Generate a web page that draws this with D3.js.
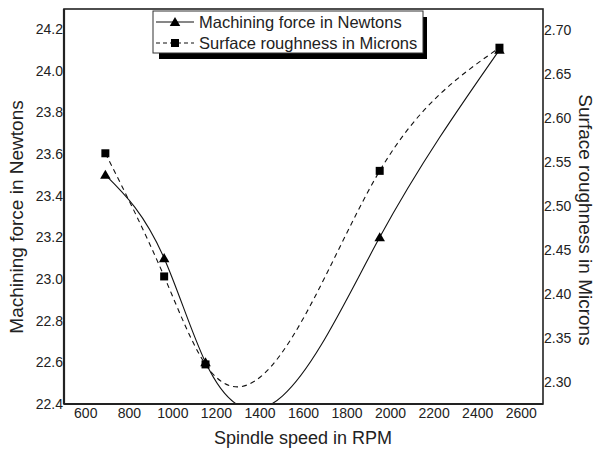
<!DOCTYPE html>
<html>
<head>
    <title>Spindle speed vs force and roughness</title>
    <script src="https://d3js.org/d3.v7.min.js"></script>
    <style>
        body { margin: 0; background: #fff; }
        text { font-family: Arial, "Liberation Sans", sans-serif; fill: #222; }
    </style>
</head>
<body>
    <svg width="596" height="450"></svg>
    <script>
        // data
        const rpm = [690, 960, 1150, 1950, 2500];
        const force = [23.5, 23.1, 22.6, 23.2, 24.1];
        const roughness = [2.56, 2.42, 2.32, 2.54, 2.68];
        const xTicks = [600, 800, 1000, 1200, 1400, 1600, 1800, 2000, 2200, 2400, 2600];
        const forceTicks = [22.4, 22.6, 22.8, 23.0, 23.2, 23.4, 23.6, 23.8, 24.0, 24.2];
        const roughTicks = [2.30, 2.35, 2.40, 2.45, 2.50, 2.55, 2.60, 2.65, 2.70];

        // plot box edges
        const box = {left: 64, right: 543, top: 9, bottom: 404};
        const svg = d3.select("svg");

        const x = d3.scaleLinear().domain([500, 2700]).range([box.left, box.right]);
        const yF = d3.scaleLinear().domain([22.4, 24.296]).range([box.bottom, box.top]);
        const yR = d3.scaleLinear().domain([2.275, 2.724]).range([box.bottom, box.top]);

        // d3 curve: natural cubic spline of y as a function of x (like the original plot)
        function curveSplineX(context) {
            let px, py;
            return {
                areaStart() {}, areaEnd() {},
                lineStart() { px = []; py = []; },
                point(a, b) { px.push(+a); py.push(+b); },
                lineEnd() {
                    const n = px.length;
                    if (!n) return;
                    context.moveTo(px[0], py[0]);
                    if (n < 3) { if (n === 2) context.lineTo(px[1], py[1]); return; }
                    const h = [], M = new Array(n).fill(0);
                    for (let i = 0; i < n - 1; i++) h.push(px[i + 1] - px[i]);
                    // tridiagonal system for second derivatives
                    const a = [], b = [], c = [], r = [];
                    for (let i = 1; i < n - 1; i++) {
                        a.push(h[i - 1]); b.push(2 * (h[i - 1] + h[i])); c.push(h[i]);
                        r.push(6 * ((py[i + 1] - py[i]) / h[i] - (py[i] - py[i - 1]) / h[i - 1]));
                    }
                    const m = b.length;
                    for (let i = 1; i < m; i++) {
                        const w = a[i] / b[i - 1];
                        b[i] -= w * c[i - 1]; r[i] -= w * r[i - 1];
                    }
                    const sol = new Array(m);
                    sol[m - 1] = r[m - 1] / b[m - 1];
                    for (let i = m - 2; i >= 0; i--) sol[i] = (r[i] - c[i] * sol[i + 1]) / b[i];
                    for (let i = 0; i < m; i++) M[i + 1] = sol[i];
                    for (let i = 0; i < n - 1; i++) {
                        const s = (py[i + 1] - py[i]) / h[i];
                        const d0 = s - h[i] * (2 * M[i] + M[i + 1]) / 6;
                        const d1 = s + h[i] * (M[i] + 2 * M[i + 1]) / 6;
                        context.bezierCurveTo(px[i] + h[i] / 3, py[i] + d0 * h[i] / 3,
                            px[i + 1] - h[i] / 3, py[i + 1] - d1 * h[i] / 3,
                            px[i + 1], py[i + 1]);
                    }
                }
            };
        }

        svg.append("defs").append("clipPath").attr("id", "plot")
            .append("rect").attr("x", box.left).attr("y", box.top)
            .attr("width", box.right - box.left).attr("height", box.bottom - box.top);

        // curves
        const forcePts = rpm.map((d, i) => [x(d), yF(force[i])]);
        const roughPts = rpm.map((d, i) => [x(d), yR(roughness[i])]);
        const line = d3.line().curve(curveSplineX);

        const g = svg.append("g").attr("clip-path", "url(#plot)");
        g.append("path").attr("d", line(forcePts))
            .attr("fill", "none").attr("stroke", "#111").attr("stroke-width", 1.1);
        g.append("path").attr("d", line(roughPts))
            .attr("fill", "none").attr("stroke", "#111").attr("stroke-width", 1.1)
            .attr("stroke-dasharray", "5,4");

        // markers
        const tri = d3.symbol().type(d3.symbolTriangle).size(48);
        const sq = d3.symbol().type(d3.symbolSquare).size(64);
        svg.selectAll(".tri").data(forcePts).enter().append("path")
            .attr("class", "tri").attr("d", tri)
            .attr("transform", d => "translate(" + d[0] + "," + (d[1] + 1) + ")")
            .attr("fill", "#000");
        svg.selectAll(".sq").data(roughPts).enter().append("path")
            .attr("class", "sq").attr("d", sq)
            .attr("transform", d => "translate(" + d[0] + "," + d[1] + ")")
            .attr("fill", "#000");

        // frame
        svg.append("rect").attr("x", box.left).attr("y", box.top)
            .attr("width", box.right - box.left).attr("height", box.bottom - box.top)
            .attr("fill", "none").attr("stroke", "#222").attr("stroke-width", 1.6);
        svg.append("line").attr("x1", box.left).attr("x2", box.left).attr("y1", box.top).attr("y2", box.bottom)
            .attr("stroke", "#222").attr("stroke-width", 2.2);
        svg.append("line").attr("x1", box.left).attr("x2", box.right).attr("y1", box.bottom).attr("y2", box.bottom)
            .attr("stroke", "#222").attr("stroke-width", 2.2);

        // tick labels
        svg.selectAll(".xt").data(xTicks).enter().append("text")
            .attr("x", d => x(d)).attr("y", 418)
            .attr("text-anchor", "middle").style("font-size", "14px")
            .text(d => d);
        svg.selectAll(".yl").data(forceTicks).enter().append("text")
            .attr("x", 63).attr("y", d => yF(d)).attr("dy", "0.35em")
            .attr("text-anchor", "end").style("font-size", "14px")
            .text(d => d.toFixed(1));
        svg.selectAll(".yr").data(roughTicks).enter().append("text")
            .attr("x", 544).attr("y", d => yR(d)).attr("dy", "0.35em")
            .attr("text-anchor", "start").style("font-size", "14px")
            .text(d => d.toFixed(2));

        // axis titles
        svg.append("text").attr("x", 303).attr("y", 444)
            .attr("text-anchor", "middle").style("font-size", "18px")
            .text("Spindle speed in RPM");
        svg.append("text").attr("transform", "translate(23,217) rotate(-90)")
            .attr("text-anchor", "middle").style("font-size", "19px")
            .text("Machining force in Newtons");
        svg.append("text").attr("transform", "translate(579,220) rotate(90)")
            .attr("text-anchor", "middle").style("font-size", "19px")
            .text("Surface roughness in Microns");

        // legend with drop shadow
        const lg = svg.append("g");
        lg.append("rect").attr("x", 159).attr("y", 17).attr("width", 268).attr("height", 42)
            .attr("fill", "#000");
        lg.append("rect").attr("x", 153).attr("y", 11).attr("width", 270).attr("height", 42)
            .attr("fill", "#fff").attr("stroke", "#333").attr("stroke-width", 1);
        const items = [
            {name: "Machining force in Newtons", sym: tri, dash: null, dy: 1},
            {name: "Surface roughness in Microns", sym: sq, dash: "4,3", dy: 0}
        ];
        items.forEach((it, i) => {
            const yy = 22 + i * 21;
            lg.append("line").attr("x1", 156).attr("x2", 194).attr("y1", yy).attr("y2", yy)
                .attr("stroke", "#111").attr("stroke-width", 1.1)
                .attr("stroke-dasharray", it.dash);
            lg.append("path").attr("d", it.sym)
                .attr("transform", "translate(175," + (yy + it.dy) + ")").attr("fill", "#000");
            lg.append("text").attr("x", 199).attr("y", yy).attr("dy", "0.35em")
                .style("font-size", "16.5px").text(it.name);
        });
    </script>
</body>
</html>
